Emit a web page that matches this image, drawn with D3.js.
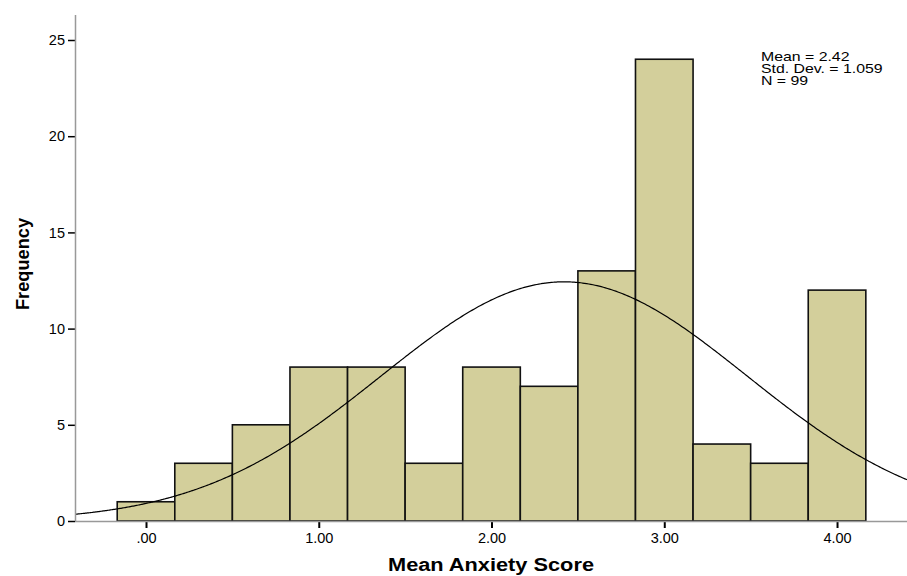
<!DOCTYPE html>
<html><head><meta charset="utf-8">
<script src="https://cdn.jsdelivr.net/npm/d3@7"></script>
<style>body{margin:0;background:#fff}svg{display:block}text{font-family:"Liberation Sans",Arial,sans-serif}</style>
</head><body><svg id="c" width="907" height="576"></svg>
<script>
const binCenters = [0, 1/3, 2/3, 1, 4/3, 5/3, 2, 7/3, 8/3, 3, 10/3, 11/3, 4];
const frequencies = [1, 3, 5, 8, 8, 3, 8, 7, 13, 24, 4, 3, 12];
const binWidth = 1/3;
const xTicks = [0, 1, 2, 3, 4];
const yTicks = [0, 5, 10, 15, 20, 25];
const stats = {mean: 2.42, sd: 1.059, n: 99};
const statLines = ["Mean = 2.42", "Std. Dev. = 1.059", "N = 99"];

const svg = d3.select("#c");
const x = d3.scaleLinear().domain([-0.411, 4.405]).range([75, 907]);
const y = d3.scaleLinear().domain([0, 25]).range([521, 40]);

// bars
svg.append("g").selectAll("rect").data(binCenters).join("rect")
  .attr("x", (d) => x(d - binWidth/2))
  .attr("width", (d) => x(d + binWidth/2) - x(d - binWidth/2))
  .attr("y", (d,i) => y(frequencies[i]))
  .attr("height", (d,i) => y(0) - y(frequencies[i]))
  .attr("fill", "#d3cf9b").attr("stroke", "#111").attr("stroke-width", 1.6);

// normal curve
const scale = stats.n * binWidth;
const pts = d3.range(0, 401).map(i => {
  const v = -0.411 + (4.405 + 0.411) * i / 400;
  const f = scale / (stats.sd * Math.sqrt(2*Math.PI)) * Math.exp(-0.5 * Math.pow((v - stats.mean)/stats.sd, 2));
  return [v, f];
});
svg.append("path").datum(pts)
  .attr("d", d3.line().x(d => x(d[0])).y(d => y(d[1])).curve(d3.curveBasis))
  .attr("fill", "none").attr("stroke", "#000").attr("stroke-width", 1.2);

// axes
const yAxis = svg.append("g").attr("transform", "translate(75,0)")
  .call(d3.axisLeft(y).tickValues(yTicks).tickSize(7).tickPadding(3).tickFormat(d3.format("d")));
yAxis.select(".domain").remove();
yAxis.selectAll("line").attr("stroke", "#000").attr("stroke-width", 1.5);
yAxis.selectAll("text").attr("font-size", 14.5).attr("fill", "#000");
svg.append("line").attr("x1", 75.5).attr("x2", 75.5).attr("y1", 15).attr("y2", 521)
  .attr("stroke", "#999").attr("stroke-width", 1.5);

const xAxis = svg.append("g").attr("transform", "translate(0,521)")
  .call(d3.axisBottom(x).tickValues(xTicks).tickSize(7).tickPadding(5).tickFormat(d => d === 0 ? ".00" : d3.format(".2f")(d)));
xAxis.select(".domain").remove();
xAxis.selectAll("line").attr("stroke", "#000").attr("stroke-width", 2);
xAxis.selectAll("text").attr("font-size", 14.5).attr("fill", "#000");
svg.append("line").attr("x1", 75).attr("x2", 907).attr("y1", 521.5).attr("y2", 521.5)
  .attr("stroke", "#999").attr("stroke-width", 1.5);

// titles
svg.append("text").attr("x", 491).attr("y", 571).attr("text-anchor", "middle")
  .attr("font-size", 18).attr("font-weight", "bold")
  .attr("textLength", 206).attr("lengthAdjust", "spacingAndGlyphs").text("Mean Anxiety Score");
svg.append("text").attr("transform", "translate(29,264) rotate(-90)").attr("text-anchor", "middle")
  .attr("font-size", 18).attr("font-weight", "bold")
  .attr("textLength", 92).attr("lengthAdjust", "spacingAndGlyphs").text("Frequency");

// stats box
svg.append("g").attr("transform", "translate(761,0) scale(1.3,1)")
  .selectAll("text").data(statLines).join("text")
  .attr("x", 0).attr("y", (d,i) => 61 + i*12)
  .attr("font-size", 12.2).text(d => d);
</script></body></html>
